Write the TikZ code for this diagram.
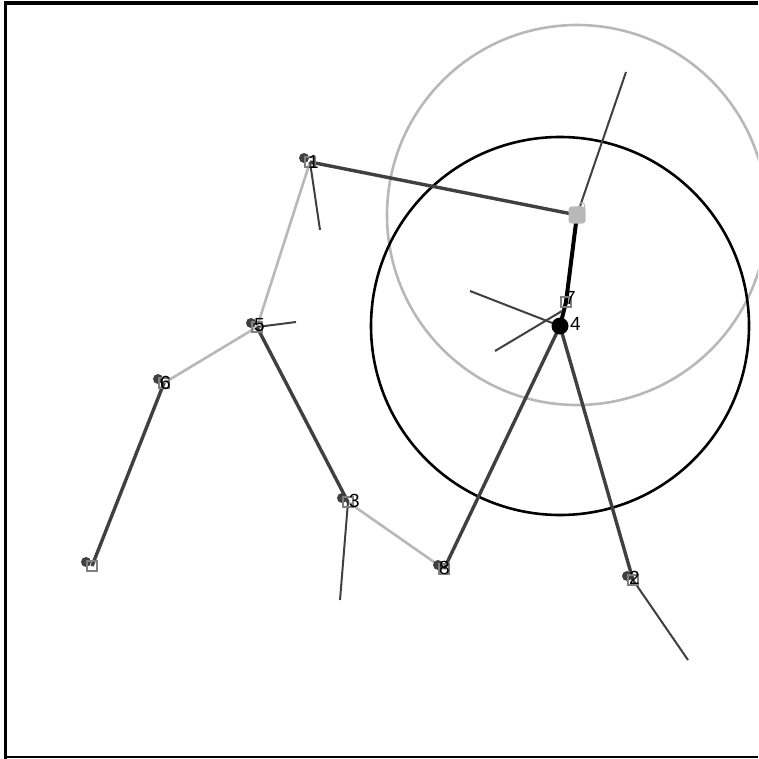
\documentclass[tikz,border=0pt]{standalone}
\usepackage{fontspec}
\setmainfont{Liberation Sans}
\definecolor{darkg}{HTML}{404040}
\definecolor{liteg}{HTML}{B8B8B8}
\definecolor{markg}{HTML}{808080}
\begin{document}
\begin{tikzpicture}[x=1pt,y=-1pt,
  link/.style={draw=darkg, line width=3.4pt},
  lite/.style={draw=liteg, line width=2.6pt},
  dirl/.style={draw=darkg, line width=2pt},
  mk/.style={draw=markg, line width=2pt, minimum size=10pt, inner sep=0pt, rectangle},
  blob/.style={fill=darkg, circle, minimum size=10pt, inner sep=0pt},
  lab/.style={font=\fontsize{19}{19}\selectfont, inner sep=0pt, anchor=south west}]
\useasboundingbox (0,0) rectangle (758,759);
\clip (0,0) rectangle (758,759);
\draw[line width=3.5pt] (5.5,759) -- (5.5,3) -- (758,3);
\draw[line width=2.5pt] (5.5,757) -- (758,757);
% node positions
\coordinate (n1) at (310,162);
\coordinate (n0) at (577,215);
\coordinate (n7) at (566,302);
\coordinate (n4) at (560,326);
\coordinate (n5) at (257,327);
\coordinate (n6) at (164,383);
\coordinate (n3) at (348,502);
\coordinate (n8) at (444,569);
\coordinate (n9) at (92,566);
\coordinate (n2) at (633,580);
% direction ends
\coordinate (d1) at (320,230);
\coordinate (d0) at (626,72);
\coordinate (d5) at (296,322);
\coordinate (d3) at (340,600);
\coordinate (d2) at (688,660);
\coordinate (d4a) at (470,291);
\coordinate (d4b) at (495,351);
\coordinate (e4b) at (562,311);
% circles
\draw[liteg, line width=2.6pt] (n0) circle (190);
\draw[black, line width=2.6pt] (n4) circle (189);
% light links
\draw[lite] (n1) -- (n5);
\draw[lite] (n5) -- (n6);
\draw[lite] (n3) -- (n8);
% dark links
\draw[link] (n1) -- (n0);
\draw[link] (n5) -- (n3);
\draw[link] (n6) -- (n9);
\draw[link] (n8) -- (n4);
\draw[link] (n4) -- (n2);
\draw[black, line width=4pt] (n0) -- (n7) -- (n4);
% direction lines
\draw[dirl] (n1) -- (d1);
\draw[dirl] (n0) -- (d0);
\draw[dirl] (n5) -- (d5);
\draw[dirl] (n3) -- (d3);
\draw[dirl] (n2) -- (d2);
\draw[dirl] (d4a) -- (n4);
\draw[dirl] (d4b) -- (e4b);
% blobs
\foreach \n in {n1,n5,n6,n3,n8,n9,n2}
  \node[blob] at ([shift={(-6,-4)}]\n) {};
% markers
\foreach \n in {n1,n5,n6,n3,n8,n9,n2,n7}
  \node[mk] at (\n) {};
\node[fill=liteg, minimum size=17pt, inner sep=0pt, rounded corners=3pt] (m0) at (n0) {};
\node[fill=black, circle, minimum size=17pt, inner sep=0pt] (m4) at (n4) {};
% labels
\node[lab] (l1) at (308,169) {1};
\node[lab, text=liteg, font=\fontsize{14}{14}\selectfont] (l0) at (578,213) {0};
\node[lab] (l7) at (565,305) {7};
\node[lab] (l4) at (570,331) {4};
\node[lab] (l5) at (254,332) {5};
\node[lab] (l6) at (160,390) {6};
\node[lab] (l3) at (349,508) {3};
\node[lab] (l8) at (439,575) {8};
\node[lab] (l2) at (629,585) {2};
\end{tikzpicture}
\end{document}
